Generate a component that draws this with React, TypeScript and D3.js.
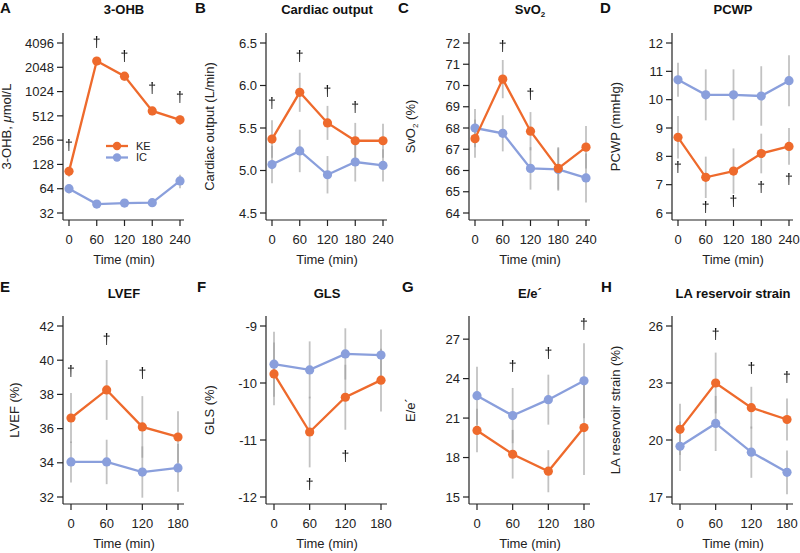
import React from 'react';
import * as d3 from 'd3';

// ---------- data ----------
const TIMES5 = [0, 60, 120, 180, 240];
const TIMES4 = [0, 60, 120, 180];
const SERIES = ['KE', 'IC'];

// A 3-OHB (µmol/L)
const A_KE = [105, 2450, 1590, 590, 457];
const A_KE_ERR = [15, 300, 200, 70, 60];
const A_IC = [64, 41.3, 42.5, 43, 80];
const A_IC_ERR = [8, 4, 4, 4, 15];
const A_TICKS = [32, 64, 128, 256, 512, 1024, 2048, 4096];
const A_DAG_T = [0, 60, 120, 180, 240];
const A_DAG_V = [216, 4096, 2740, 1115, 860];

// B Cardiac output
const B_KE = [5.37, 5.92, 5.56, 5.35, 5.35];
const B_KE_ERR = [0.22, 0.23, 0.2, 0.21, 0.2];
const B_IC = [5.07, 5.23, 4.95, 5.1, 5.06];
const B_IC_ERR = [0.22, 0.25, 0.22, 0.23, 0.19];
const B_TICKS = [4.5, 5.0, 5.5, 6.0, 6.5];
const B_DAG_T = [0, 60, 120, 180];
const B_DAG_V = [5.78, 6.34, 5.93, 5.74];

// C SvO2
const C_KE = [67.5, 70.3, 67.85, 66.1, 67.1];
const C_KE_ERR = [0.9, 0.9, 0.9, 1.0, 1.0];
const C_IC = [68.0, 67.75, 66.1, 66.05, 65.65];
const C_IC_ERR = [0.9, 0.85, 1.0, 1.0, 1.15];
const C_TICKS = [64, 65, 66, 67, 68, 69, 70, 71, 72];
const C_DAG_T = [60, 120];
const C_DAG_V = [71.8, 69.56];

// D PCWP
const D_KE = [8.67, 7.26, 7.48, 8.1, 8.35];
const D_KE_ERR = [0.75, 0.73, 0.8, 0.7, 0.65];
const D_IC = [10.7, 10.17, 10.17, 10.13, 10.67];
const D_IC_ERR = [0.6, 0.9, 0.9, 1.05, 0.9];
const D_TICKS = [6, 7, 8, 9, 10, 11, 12];
const D_DAG_T = [0, 60, 120, 180, 240];
const D_DAG_V = [7.61, 6.18, 6.39, 6.88, 7.16];

// E LVEF
const E_KE = [36.62, 38.26, 36.1, 35.51];
const E_KE_ERR = [1.46, 1.75, 1.8, 1.5];
const E_IC = [34.05, 34.05, 33.46, 33.7];
const E_IC_ERR = [1.2, 1.3, 1.5, 1.4];
const E_TICKS = [32, 34, 36, 38, 40, 42];
const E_DAG_T = [0, 60, 120];
const E_DAG_V = [39.31, 41.18, 39.19];

// F GLS
const F_KE = [-9.84, -10.86, -10.25, -9.95];
const F_KE_ERR = [0.55, 0.62, 0.57, 0.55];
const F_IC = [-9.67, -9.77, -9.49, -9.51];
const F_IC_ERR = [0.57, 0.5, 0.45, 0.45];
const F_TICKS = [-12, -11, -10, -9];
const F_DAG_T = [60, 120];
const F_DAG_V = [-11.79, -11.3];

// G E/e'
const G_KE = [20.06, 18.25, 16.96, 20.28];
const G_KE_ERR = [1.65, 1.85, 1.6, 3.6];
const G_IC = [22.7, 21.19, 22.4, 23.83];
const G_IC_ERR = [2.2, 2.1, 1.9, 2.85];
const G_TICKS = [15, 18, 21, 24, 27];
const G_DAG_T = [60, 120, 180];
const G_DAG_V = [24.9, 25.9, 28.1];

// H LA reservoir strain
const H_KE = [20.56, 23.0, 21.7, 21.08];
const H_KE_ERR = [1.35, 1.6, 1.1, 1.1];
const H_IC = [19.67, 20.87, 19.36, 18.3];
const H_IC_ERR = [1.3, 1.45, 1.35, 1.15];
const H_TICKS = [17, 20, 23, 26];
const H_DAG_T = [60, 120, 180];
const H_DAG_V = [25.53, 23.75, 23.28];

// ---------- layout / style ----------
const W = 800;
const H = 553;
const FONT = '"Liberation Sans", Arial, Helvetica, sans-serif';
const ORANGE = '#ee6a2c';
const BLUE = '#8a9fdc';
const AXIS = '#222';
const ERR = '#9a9a9a';
const COL_X = [63, 266, 469, 672];
const LETTER_X = [[0, 195, 398, 600], [0, 197, 402, 601]];
const ROW_TOP = [33, 316];
const ROW_BOTTOM = [220, 504];
const X_START = [6, 8];
const X_END = [117, 115];
const LETTER_Y = [8, 287];
const TITLE_Y = [9, 293];

type P = {
  letter: string; title: React.ReactNode; ylabel: React.ReactNode; ylabX: number;
  col: number; row: number; times: number[]; log?: boolean; domain: [number, number];
  ticks: number[]; fmt: (v: number) => string;
  ke: number[]; keErr: number[]; ic: number[]; icErr: number[];
  dagT: number[]; dagV: number[]; legend?: boolean;
};

const sub = (t: string) => <tspan fontSize={8} dy={3}>{t}</tspan>;

const PANELS: P[] = [
  { letter: 'A', title: '3-OHB', ylabel: <>3-OHB, <tspan fontStyle="italic">μ</tspan>mol/L</>, ylabX: 6,
    col: 0, row: 0, times: TIMES5, log: true, domain: [32, 4096], ticks: A_TICKS, fmt: (v) => String(v),
    ke: A_KE, keErr: A_KE_ERR, ic: A_IC, icErr: A_IC_ERR, dagT: A_DAG_T, dagV: A_DAG_V, legend: true },
  { letter: 'B', title: 'Cardiac output', ylabel: 'Cardiac output (L/min)', ylabX: 209,
    col: 1, row: 0, times: TIMES5, domain: [4.5, 6.5], ticks: B_TICKS, fmt: d3.format('.1f'),
    ke: B_KE, keErr: B_KE_ERR, ic: B_IC, icErr: B_IC_ERR, dagT: B_DAG_T, dagV: B_DAG_V },
  { letter: 'C', title: <>SvO{sub('2')}</>, ylabel: <>SvO{sub('2')}<tspan dy={-3}> (%)</tspan></>, ylabX: 410,
    col: 2, row: 0, times: TIMES5, domain: [64, 72], ticks: C_TICKS, fmt: (v) => String(v),
    ke: C_KE, keErr: C_KE_ERR, ic: C_IC, icErr: C_IC_ERR, dagT: C_DAG_T, dagV: C_DAG_V },
  { letter: 'D', title: 'PCWP', ylabel: 'PCWP (mmHg)', ylabX: 615,
    col: 3, row: 0, times: TIMES5, domain: [6, 12], ticks: D_TICKS, fmt: (v) => String(v),
    ke: D_KE, keErr: D_KE_ERR, ic: D_IC, icErr: D_IC_ERR, dagT: D_DAG_T, dagV: D_DAG_V },
  { letter: 'E', title: 'LVEF', ylabel: 'LVEF (%)', ylabX: 14,
    col: 0, row: 1, times: TIMES4, domain: [32, 42], ticks: E_TICKS, fmt: (v) => String(v),
    ke: E_KE, keErr: E_KE_ERR, ic: E_IC, icErr: E_IC_ERR, dagT: E_DAG_T, dagV: E_DAG_V },
  { letter: 'F', title: 'GLS', ylabel: 'GLS (%)', ylabX: 209,
    col: 1, row: 1, times: TIMES4, domain: [-12, -9], ticks: F_TICKS, fmt: (v) => String(v),
    ke: F_KE, keErr: F_KE_ERR, ic: F_IC, icErr: F_IC_ERR, dagT: F_DAG_T, dagV: F_DAG_V },
  { letter: 'G', title: 'E/e´', ylabel: 'E/e´', ylabX: 410,
    col: 2, row: 1, times: TIMES4, domain: [15, 28], ticks: G_TICKS, fmt: (v) => String(v),
    ke: G_KE, keErr: G_KE_ERR, ic: G_IC, icErr: G_IC_ERR, dagT: G_DAG_T, dagV: G_DAG_V },
  { letter: 'H', title: 'LA reservoir strain', ylabel: 'LA reservoir strain (%)', ylabX: 615,
    col: 3, row: 1, times: TIMES4, domain: [17, 26], ticks: H_TICKS, fmt: (v) => String(v),
    ke: H_KE, keErr: H_KE_ERR, ic: H_IC, icErr: H_IC_ERR, dagT: H_DAG_T, dagV: H_DAG_V },
];

function Panel({ p }: { p: P }) {
  const ax = COL_X[p.col];
  const top = ROW_TOP[p.row];
  const bottom = ROW_BOTTOM[p.row];
  const x = d3.scaleLinear()
    .domain([0, p.times[p.times.length - 1]])
    .range([ax + X_START[p.row], ax + X_END[p.row]]);
  const y: any = (p.log ? d3.scaleLog().base(2) : d3.scaleLinear())
    .domain(p.domain)
    .range([bottom - 7, top + 10]);
  const line = d3.line<number>().x((_, i) => x(p.times[i])).y((d) => y(d));
  const series = [
    { name: SERIES[1], vals: p.ic, err: p.icErr, color: BLUE },
    { name: SERIES[0], vals: p.ke, err: p.keErr, color: ORANGE },
  ];
  const midY = (top + bottom) / 2;
  const titleX = ax + 61;
  return (
    <g>
      <text x={LETTER_X[p.row][p.col]} y={LETTER_Y[p.row]} dy="0.36em" fontSize={15} fontWeight="bold" fill="#111">{p.letter}</text>
      <text x={titleX} y={TITLE_Y[p.row]} dy="0.36em" textAnchor="middle" fontSize={13} fontWeight="bold" fill="#111">{p.title}</text>
      <text transform={`translate(${p.ylabX},${midY}) rotate(-90)`} dy="0.36em" textAnchor="middle" fontSize={13} fill="#222">{p.ylabel}</text>
      {/* error bars */}
      {series.map((s) => s.vals.map((v, i) => (
        <line key={s.name + i} x1={x(p.times[i])} x2={x(p.times[i])} y1={y(v - s.err[i])} y2={y(v + s.err[i])}
          stroke={ERR} strokeOpacity={0.6} strokeWidth={1.8} />
      )))}
      {/* lines and points */}
      {series.map((s) => (
        <g key={s.name}>
          <path d={line(s.vals) || ''} fill="none" stroke={s.color} strokeWidth={2.3} />
          {s.vals.map((v, i) => (
            <circle key={i} cx={x(p.times[i])} cy={y(v)} r={4.6} fill={s.color} />
          ))}
        </g>
      ))}
      {/* daggers */}
      <g filter="url(#gray-aa)">
        {p.dagT.map((t, i) => (
          <text key={'d' + i} x={x(t)} y={y(p.dagV[i])} dy="0.3em" textAnchor="middle" fontSize={14} fill="#111">†</text>
        ))}
      </g>
      {/* y axis */}
      <line x1={ax} x2={ax} y1={top} y2={bottom} stroke={AXIS} strokeWidth={1.2} />
      {p.ticks.map((t) => (
        <g key={'y' + t}>
          <line x1={ax - 6} x2={ax} y1={y(t)} y2={y(t)} stroke={AXIS} strokeWidth={1.2} />
          <text x={ax - 9} y={y(t)} dy="0.36em" textAnchor="end" fontSize={13} fill="#222">{p.fmt(t)}</text>
        </g>
      ))}
      {/* x axis */}
      <line x1={ax} x2={ax + 121} y1={bottom} y2={bottom} stroke={AXIS} strokeWidth={1.2} />
      {p.times.map((t) => (
        <g key={'x' + t}>
          <line x1={x(t)} x2={x(t)} y1={bottom} y2={bottom + 6} stroke={AXIS} strokeWidth={1.2} />
          <text x={x(t)} y={bottom + 19} dy="0.36em" textAnchor="middle" fontSize={13} fill="#222">{t}</text>
        </g>
      ))}
      <text x={titleX} y={bottom + 39} dy="0.36em" textAnchor="middle" fontSize={13} fill="#222">Time (min)</text>
      {p.legend && (
        <g>
          {[SERIES[0], SERIES[1]].map((name, i) => {
            const ly = 146 + i * 11.5;
            const c = name === 'KE' ? ORANGE : BLUE;
            return (
              <g key={name}>
                <line x1={106} x2={128} y1={ly} y2={ly} stroke={c} strokeWidth={2.3} />
                <circle cx={117} cy={ly} r={4.2} fill={c} />
                <text x={136} y={ly} dy="0.36em" fontSize={11} fill="#222">{name}</text>
              </g>
            );
          })}
        </g>
      )}
    </g>
  );
}

export default function App() {
  return (
    <svg width={W} height={H} viewBox={`0 0 ${W} ${H}`}
      style={{ position: 'absolute', left: 0, top: 0, background: '#fff', fontFamily: FONT }}>
      <defs>
        <filter id="gray-aa" x="-50%" y="-50%" width="200%" height="200%">
          <feOffset dx={0} dy={0} />
        </filter>
      </defs>
      <rect width={W} height={H} fill="#fff" />
      {PANELS.map((p) => <Panel key={p.letter} p={p} />)}
    </svg>
  );
}
